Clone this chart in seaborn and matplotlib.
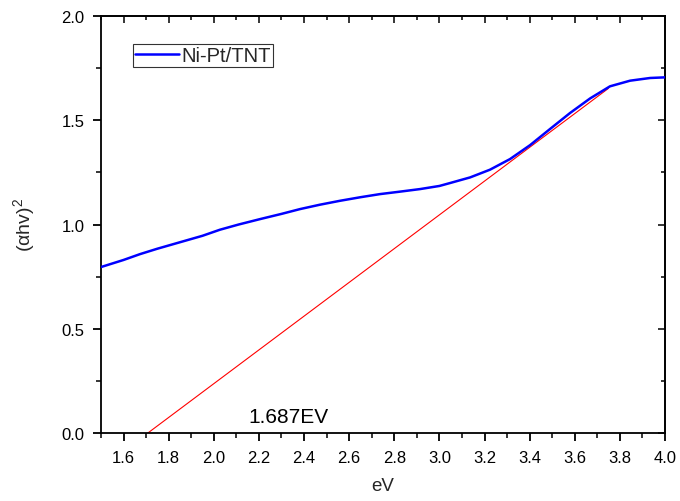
import matplotlib
matplotlib.use("Agg")
import matplotlib.pyplot as plt
from matplotlib.ticker import MultipleLocator, NullFormatter
import seaborn as sns
import pandas as pd

# Data
energy_ev = [1.50, 1.60, 1.673, 1.75, 1.85, 1.95, 2.027, 2.11, 2.205, 2.30, 2.382, 2.47,
             2.56, 2.65, 2.737, 2.82, 2.914, 3.00, 3.047, 3.136, 3.224, 3.313, 3.402,
             3.49, 3.579, 3.668, 3.756, 3.845, 3.934, 4.00]
alpha_hv_sq = [0.796, 0.830, 0.858, 0.884, 0.915, 0.946, 0.975, 1.000, 1.026, 1.051,
               1.074, 1.095, 1.114, 1.131, 1.146, 1.157, 1.170, 1.185, 1.199, 1.226,
               1.263, 1.314, 1.381, 1.458, 1.535, 1.605, 1.663, 1.690, 1.703, 1.706]
fit_x = [1.708, 3.749]
fit_y = [0.0, 1.653]
series_label = "Ni-Pt/TNT"
bandgap_text = "1.687EV"
x_ticks = [1.6, 1.8, 2.0, 2.2, 2.4, 2.6, 2.8, 3.0, 3.2, 3.4, 3.6, 3.8, 4.0]
y_ticks = [0.0, 0.5, 1.0, 1.5, 2.0]

sns.set_theme(style="ticks")
plt.rcParams['font.family'] = ['Liberation Sans', 'DejaVu Sans']

fig = plt.figure(figsize=(6.8, 5.02), dpi=100)
ax = fig.add_axes([0.1485, 0.1355, 0.8295, 0.8305])

df = pd.DataFrame({"eV": energy_ev, "y": alpha_hv_sq})
fit = pd.DataFrame({"eV": fit_x, "y": fit_y})

sns.lineplot(data=df, x="eV", y="y", ax=ax, color="#0000ff", linewidth=1.8,
             label=series_label, zorder=3)
sns.lineplot(data=fit, x="eV", y="y", ax=ax, color="#ff0000", linewidth=0.8,
             zorder=2, legend=False)

ax.set_xlim(1.5, 4.0)
ax.set_ylim(0.0, 2.0)
ax.set_xticks(x_ticks)
ax.set_yticks(y_ticks)
ax.set_xticklabels([f"{v:.1f}" for v in x_ticks])
ax.set_yticklabels([f"{v:.1f}" for v in y_ticks])
ax.xaxis.set_minor_locator(MultipleLocator(0.1))
ax.yaxis.set_minor_locator(MultipleLocator(0.25))

for s in ax.spines.values():
    s.set_visible(True)
    s.set_linewidth(1.3)
    s.set_color("black")

ax.tick_params(axis="both", which="major", direction="out", length=6, width=1.3,
               labelsize=12, colors="black", pad=6)
ax.tick_params(axis="both", which="minor", direction="out", length=3.5, width=1.3)

# inward ticks on top and right
top = ax.secondary_xaxis("top")
top.set_xticks(x_ticks)
top.xaxis.set_minor_locator(MultipleLocator(0.1))
top.xaxis.set_major_formatter(NullFormatter())
top.tick_params(which="major", direction="in", length=5, width=1.3)
top.tick_params(which="minor", direction="in", length=3, width=1.3)
top.spines["top"].set_linewidth(1.3)
right = ax.secondary_yaxis("right")
right.set_yticks(y_ticks)
right.yaxis.set_minor_locator(MultipleLocator(0.25))
right.yaxis.set_major_formatter(NullFormatter())
right.tick_params(which="major", direction="in", length=5, width=1.3)
right.tick_params(which="minor", direction="in", length=3, width=1.3)
right.spines["right"].set_linewidth(1.3)

ax.set_xlabel("eV", fontsize=13.5, labelpad=9)
ax.set_ylabel(r"($\mathregular{\alpha}$hv)$^\mathregular{2}$", fontsize=14, labelpad=17)

ax.text(2.152, 0.08, bandgap_text, fontsize=15, color="black", ha="left", va="center")

leg = ax.legend(loc="upper left", bbox_to_anchor=(0.057, 0.933), fontsize=14.5,
                frameon=True, fancybox=False, handlelength=2.2, handletextpad=0.1,
                borderpad=0.1, borderaxespad=0)
leg.get_frame().set_edgecolor("black")
leg.get_frame().set_linewidth(0.8)

fig.savefig("out.png", dpi=100)
